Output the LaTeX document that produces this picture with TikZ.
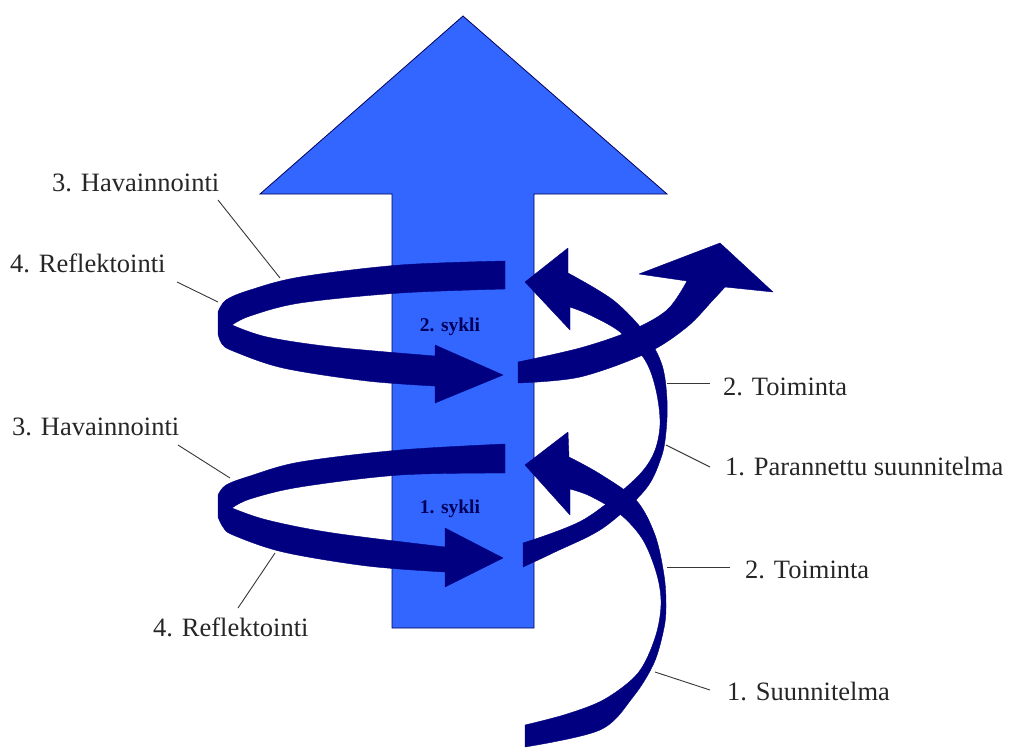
\documentclass[tikz,border=0pt]{standalone}
\usepackage{fontspec}
\setmainfont{Liberation Serif}
\definecolor{shaftblue}{RGB}{51,102,255}
\definecolor{ribbon}{RGB}{0,0,128}
\definecolor{leadergray}{RGB}{55,55,55}
\tikzset{
  bigarrow/.style={fill=shaftblue, draw=ribbon!70!black, line width=0.8pt, line join=miter},
  band/.style={fill=ribbon, draw=ribbon, line width=0.4pt, line join=round},
  leader/.style={draw=leadergray, line width=0.9pt},
  lbl/.style={anchor=base west, inner sep=0pt, font=\fontsize{26.5}{30}\selectfont, text=black!85},
  cyc/.style={anchor=base, inner sep=0pt, font=\bfseries\fontsize{19.5}{22}\selectfont, text=ribbon!70!black},
  sm/.style={smooth, tension=0.55}
}
\begin{document}
\begin{tikzpicture}[x=1pt, y=-1pt]
\useasboundingbox[fill=white] (0,0) rectangle (1011,747);

% big blue arrow
\path[bigarrow] (392,628) -- (392,194) -- (260,194) -- (463,16) -- (667,194) -- (534,194) -- (534,628) -- cycle;

% upper loop (2. sykli)
\path[band] plot[sm] coordinates {(505,261) (400,265) (300,277) (250,290) (226,300) (218,312)}
  -- (218,334)
  -- plot[sm] coordinates {(218,334) (222,344) (233,351) (283,368) (367,381) (435,386)}
  -- (435,403) -- (503,375) -- (435,345)
  -- plot[sm] coordinates {(435,356) (333,347) (267,337) (232,325)}
  -- plot[sm] coordinates {(232,325) (250,316) (300,303) (400,293) (505,289)}
  -- cycle;

% lower loop (1. sykli)
\path[band] plot[sm] coordinates {(505,444) (400,450) (300,462) (250,476) (226,485) (218,495)}
  -- (218,517)
  -- plot[sm] coordinates {(218,517) (223,527) (233,535) (283,552) (367,566) (445,572)}
  -- (445,587) -- (503,558) -- (445,528)
  -- plot[sm] coordinates {(445,547) (333,533) (267,520) (232,508)}
  -- plot[sm] coordinates {(232,508) (250,499) (300,487) (400,475) (505,473)}
  -- cycle;

% strand from lower loop up to the upper arrowhead
\path[band] plot[sm] coordinates {(523,543) (583,520) (633,481) (653,455) (660,425) (656,390) (645,360) (620,332) (590,315) (570,307)}
  -- (570,330) -- (525,282) -- (568,248)
  -- plot[sm] coordinates {(568,273) (613,300) (645,333) (662,365) (667,400) (666,432) (661,458) (645,490) (603,528) (555,552) (523,567)}
  -- cycle;

% exit strand of the upper loop with the big arrowhead
\path[band] plot[sm] coordinates {(518,383) (580,377) (647,353) (687,327) (713,300) (725,287)}
  -- (773,292) -- (720,243) -- (639,274)
  -- plot[sm] coordinates {(687,281) (667,310) (630,331) (580,348) (518,362)}
  -- cycle;

% strand from the bottom up to the lower arrowhead
\path[band] plot[sm] coordinates {(525,725) (567,714) (605,699) (638,673) (655,638) (661,605) (657,575) (643,540) (620,514) (590,496) (570,489)}
  -- (570,515) -- (525,465) -- (568,432)
  -- plot[sm] coordinates {(569,457) (600,474) (636,500) (655,535) (664,575) (666,605) (664,628) (654,663) (633,697) (600,730) (525,747)}
  -- cycle;

% cycle labels
\node[cyc] (syk2) at (450,331) {2. sykli};
\node[cyc] (syk1) at (450,513) {1. sykli};

% labels
\node[lbl] (hav2) at (52,191) {3. Havainnointi};
\node[lbl] (ref2) at (10,272) {4. Reflektointi};
\node[lbl] (hav1) at (12,435) {3. Havainnointi};
\node[lbl] (ref1) at (153,636) {4. Reflektointi};
\node[lbl] (toi2) at (723,395) {2. Toiminta};
\node[lbl] (par)  at (725,475) {1. Parannettu suunnitelma};
\node[lbl] (toi1) at (745,578) {2. Toiminta};
\node[lbl] (suu)  at (727,700) {1. Suunnitelma};

% leader end points
\coordinate (hav2a) at (218,200); \coordinate (hav2b) at (280,278);
\coordinate (ref2a) at (177,282); \coordinate (ref2b) at (218,302);
\coordinate (hav1a) at (178,445); \coordinate (hav1b) at (230,478);
\coordinate (ref1a) at (238,608); \coordinate (ref1b) at (275,553);
\coordinate (toi2a) at (710,383); \coordinate (toi2b) at (667,383);
\coordinate (para)  at (710,467); \coordinate (parb)  at (666,445);
\coordinate (toi1a) at (730,567); \coordinate (toi1b) at (667,567);
\coordinate (suua)  at (710,690); \coordinate (suub)  at (655,672);

\draw[leader] (hav2a) -- (hav2b);
\draw[leader] (ref2a) -- (ref2b);
\draw[leader] (hav1a) -- (hav1b);
\draw[leader] (ref1a) -- (ref1b);
\draw[leader] (toi2a) -- (toi2b);
\draw[leader] (para) -- (parb);
\draw[leader] (toi1a) -- (toi1b);
\draw[leader] (suua) -- (suub);
\end{tikzpicture}
\end{document}
